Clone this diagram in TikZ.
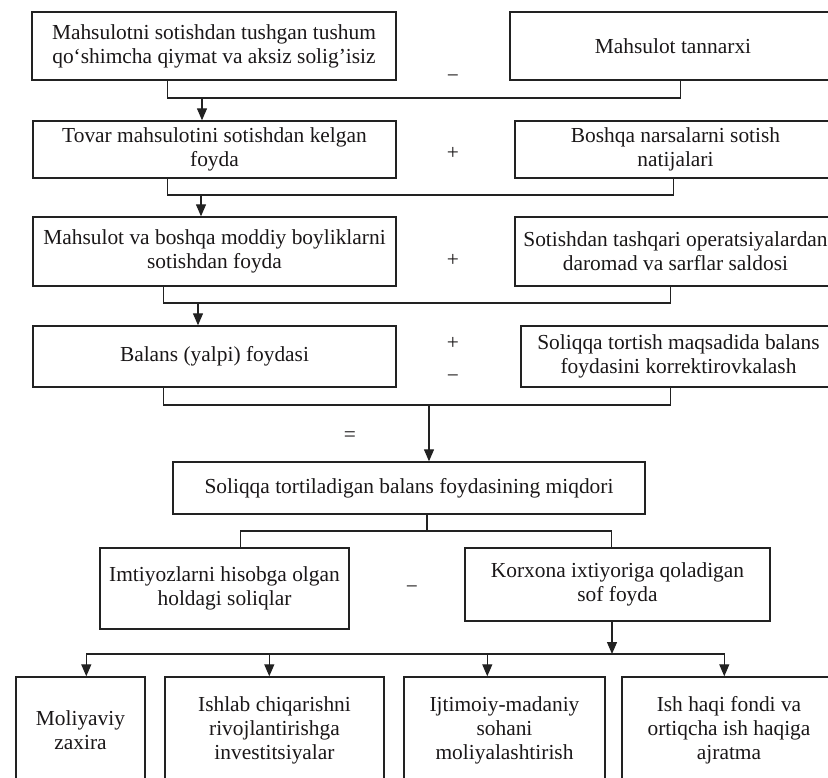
\documentclass[tikz,border=0pt]{standalone}
\usepackage{fontspec}
\setmainfont{Liberation Serif}
\usetikzlibrary{arrows.meta}
\definecolor{linecol}{HTML}{222222}
\definecolor{txtcol}{HTML}{1A1718}
\begin{document}
\begin{tikzpicture}[x=1pt,y=-1pt,
  box/.style={draw=linecol, line width=1.4pt, inner sep=0pt, align=center,
    font=\fontsize{21.4}{24}\selectfont, text=txtcol},
  conn/.style={draw=linecol, line width=1.3pt},
  arr/.style={conn, -{Triangle[width=10pt,length=12pt]}},
  sign/.style={font=\fontsize{21.4}{24}\selectfont, text=txtcol, inner sep=0pt}]
\useasboundingbox (0,0) rectangle (828,778);
\clip (0,0) rectangle (828,778);

% boxes
\node[box, minimum width=364pt, minimum height=68pt] (b1) at (214,46)
  {Mahsulotni sotishdan tushgan tushum\\qo‘shimcha qiymat va aksiz solig’isiz};
\node[box, minimum width=326pt, minimum height=68pt] (b2) at (673,46)
  {Mahsulot tannarxi};
\node[box, minimum width=363pt, minimum height=57pt] (b3) at (214.5,149.5)
  {Tovar mahsulotini sotishdan kelgan\\foyda};
\node[box, minimum width=321pt, minimum height=57pt] (b4) at (675.5,149.5)
  {Boshqa narsalarni sotish\\natijalari};
\node[box, minimum width=363pt, minimum height=69pt] (b5) at (214.5,251.5)
  {Mahsulot va boshqa moddiy boyliklarni\\sotishdan foyda};
\node[box, minimum width=321pt, minimum height=69pt] (b6) at (675.5,251.5)
  {Sotishdan tashqari operatsiyalardan\\daromad va sarflar saldosi};
\node[box, minimum width=363pt, minimum height=61pt] (b7) at (214.5,356.5)
  {Balans (yalpi) foydasi};
\node[box, minimum width=315pt, minimum height=61pt] (b8) at (678.5,356.5)
  {Soliqqa tortish maqsadida balans\\foydasini korrektirovkalash};
\node[box, minimum width=472pt, minimum height=52pt] (b9) at (409,488)
  {Soliqqa tortiladigan balans foydasining miqdori};
\node[box, minimum width=249pt, minimum height=81pt] (b10) at (224.5,588.5)
  {Imtiyozlarni hisobga olgan\\holdagi soliqlar};
\node[box, minimum width=305pt, minimum height=73pt] (b11) at (617.5,584.5)
  {Korxona ixtiyoriga qoladigan\\sof foyda};
\node[box, minimum width=129pt, minimum height=106pt] (b12) at (80.5,730)
  {Moliyaviy\\zaxira};
\node[box, minimum width=219pt, minimum height=106pt] (b13) at (274.5,730)
  {Ishlab chiqarishni\\rivojlantirishga\\investitsiyalar};
\node[box, minimum width=201pt, minimum height=106pt] (b14) at (504.5,730)
  {Ijtimoiy-madaniy\\sohani\\moliyalashtirish};
\node[box, minimum width=214pt, minimum height=106pt] (b15) at (729,730)
  {Ish haqi fondi va\\ortiqcha ish haqiga\\ajratma};

% signs
\node[sign] (s1) at (453,79) {−};
\node[sign] (s2) at (453,153) {+};
\node[sign] (s3) at (453,260) {+};
\node[sign] (s4) at (453,343) {+};
\node[sign] (s5) at (453,379) {−};
\node[sign] (s6) at (350,437) {=};
\node[sign] (s7) at (412,590) {−};

% junctions
\coordinate (j1) at (202,98);
\coordinate (j2) at (201,195);
\coordinate (j3) at (198,303);
\coordinate (j4) at (429,405);
\coordinate (j5) at (427,531);
\coordinate (j6) at (612,654);

% connectors
\draw[conn] ([xshift=136pt]b1.south west) |- (j1) -| ([xshift=171pt]b2.south west);
\draw[arr] (j1) -- (j1 |- b3.north);
\draw[conn] ([xshift=135pt]b3.south west) |- (j2) -| ([xshift=159pt]b4.south west);
\draw[arr] (j2) -- (j2 |- b5.north);
\draw[conn] ([xshift=131pt]b5.south west) |- (j3) -| ([xshift=156pt]b6.south west);
\draw[arr] (j3) -- (j3 |- b7.north);
\draw[conn] ([xshift=131pt]b7.south west) |- (j4) -| ([xshift=150pt]b8.south west);
\draw[arr] (j4) -- (j4 |- b9.north);
\draw[conn] (j5 |- b9.south) -- (j5);
\draw[conn] ([xshift=141pt]b10.north west) |- (j5) -| ([xshift=147pt]b11.north west);
\draw[arr] (j6 |- b11.south) -- (j6);
\draw[arr] (j6) -| ([xshift=71pt]b12.north west);
\draw[arr] (j6) -| ([xshift=105pt]b13.north west);
\draw[arr] (j6) -| ([xshift=84pt]b14.north west);
\draw[arr] (j6) -| ([xshift=103pt]b15.north west);
\end{tikzpicture}
\end{document}
